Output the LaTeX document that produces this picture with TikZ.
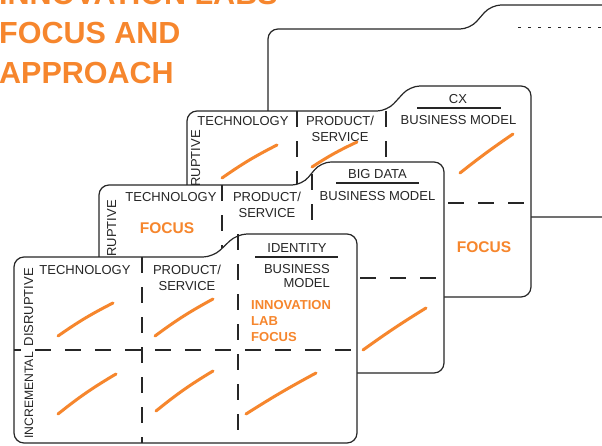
\documentclass[tikz,border=0pt]{standalone}
\usepackage{fontspec}
\setmainfont{Liberation Sans}
\definecolor{labsorange}{RGB}{246,134,45}
\definecolor{ink}{RGB}{38,38,38}

\begin{document}
\begin{tikzpicture}[x=1pt,y=1pt]
\tikzstyle{every node}+=[inner sep=0pt, text=ink]
\tikzstyle{card}=[draw=ink, fill=white, line width=1.2pt, rounded corners=10pt]
\tikzstyle{cut}=[draw=ink, line width=1.2pt, dash pattern=on 16pt off 14pt]
\tikzstyle{lbl}=[anchor=base, font=\fontsize{13}{15}\selectfont]
\tikzstyle{side}=[anchor=base east, rotate=90, font=\fontsize{13}{15}\selectfont]
\tikzstyle{hot}=[anchor=base, text=labsorange, font=\bfseries\fontsize{15.5}{18}\selectfont]
\tikzstyle{swoosh}=[draw=labsorange, line width=3pt, line cap=round]
\useasboundingbox (0,0) rectangle (602,-445);
\clip (0,0) rectangle (602,-445);
% title
\tikzstyle{headline}=[anchor=base west, text=labsorange, font=\bfseries\fontsize{30.5}{36}\selectfont]
\draw (-1,-4.5) node[headline] (titleA) {INNOVATION LABS};
\draw (-1,-43) node[headline] (titleB) {FOCUS AND};
\draw (-1,-83) node[headline] (titleC) {APPROACH};
% back card
\draw [card] (268,-217) -- (268,-29) -- (470,-29) -- (491,-5) -- (650,-5) -- (650,-217) -- cycle;
\draw [ink, line width=1pt, dash pattern=on 3pt off 7pt] (518,-27) -- (602,-27);
% CX card
\draw [card] (187,-297) -- (187,-111) -- (387,-111) -- (410,-86) -- (531,-86) -- (531,-297) -- cycle;
\draw [cut] (297,-111) -- (297,-297);
\draw [cut] (386,-111) -- (386,-297);
\draw [cut, dash phase=9pt] (187,-203) -- (531,-203);
\draw (200,-130) node[side] (disC) {DISRUPTIVE};
\draw (243,-125) node[lbl] (techC) {TECHNOLOGY};
\draw (340,-125) node[lbl] (prodC) {PRODUCT/};
\draw (340,-141) node[lbl] (servC) {SERVICE};
\draw (458,-103) node[lbl] (cx) {CX};
\draw [ink, line width=1.2pt] (417,-108) -- (501,-108);
\draw (458.5,-124) node[lbl] (bmC) {BUSINESS MODEL};
\draw (484,-252) node[hot] (focusC) {FOCUS};
\draw [swoosh] (222,-178) to[bend left=4] (277,-145);
\draw [swoosh] (312,-167) to[bend left=4] (357,-142);
\draw [swoosh] (460,-173) to[bend left=2] (513,-134);
% BIG DATA card
\draw [card] (99,-373) -- (99,-185) -- (302,-185) -- (321,-162) -- (444,-162) -- (444,-373) -- cycle;
\draw [cut] (222,-185) -- (222,-373);
\draw [cut] (312,-174) -- (312,-373);
\draw [cut, dash phase=9pt] (99,-278) -- (444,-278);
\draw (116,-200) node[side] (disB) {DISRUPTIVE};
\draw (171,-201) node[lbl] (techB) {TECHNOLOGY};
\draw (267,-201) node[lbl] (prodB) {PRODUCT/};
\draw (267,-217) node[lbl] (servB) {SERVICE};
\draw (167,-233) node[hot] (focusB) {FOCUS};
\draw (377.5,-178) node[lbl] (bigdata) {BIG DATA};
\draw [ink, line width=1.2pt] (336,-183) -- (419,-183);
\draw (377.5,-200) node[lbl] (bmB) {BUSINESS MODEL};
\draw [swoosh] (363,-350) to[bend left=2] (426,-308);
% IDENTITY card
\draw [card] (14,-443) -- (14,-257) -- (213,-257) -- (237,-234) -- (357,-234) -- (357,-443) -- cycle;
\draw [cut] (142,-257) -- (142,-443);
\draw [cut] (238,-234) -- (238,-443);
\draw [cut, dash phase=9pt] (14,-350) -- (357,-350);
\draw (33,-268) node[side] (disA) {DISRUPTIVE};
\draw (33,-352) node[side, font=\fontsize{12.2}{15}\selectfont] (incA) {INCREMENTAL};
\draw (85,-274) node[lbl] (techA) {TECHNOLOGY};
\draw (187,-274) node[lbl] (prodA) {PRODUCT/};
\draw (187,-290) node[lbl] (servA) {SERVICE};
\draw (297,-252) node[lbl] (identity) {IDENTITY};
\draw [ink, line width=1.2pt] (255,-257) -- (338,-257);
\draw (330,-273) node[lbl, anchor=base east] (busA) {BUSINESS};
\draw (330,-287) node[lbl, anchor=base east] (modA) {MODEL};
\draw (251,-309) node[hot, anchor=base west, font=\bfseries\fontsize{13}{15}\selectfont] (labA) {INNOVATION};
\draw (251,-325) node[hot, anchor=base west, font=\bfseries\fontsize{13}{15}\selectfont] (labB) {LAB};
\draw (251,-341) node[hot, anchor=base west, font=\bfseries\fontsize{13}{15}\selectfont] (labC) {FOCUS};
\draw [swoosh] (58,-336) to[bend left=4] (113,-303);
\draw [swoosh] (155,-336) to[bend left=4] (213,-299);
\draw [swoosh] (58,-414) to[bend left=4] (116,-374);
\draw [swoosh] (156,-411) to[bend left=4] (213,-371);
\draw [swoosh] (246,-414) to[bend left=2] (316,-373);
\end{tikzpicture}
\end{document}
